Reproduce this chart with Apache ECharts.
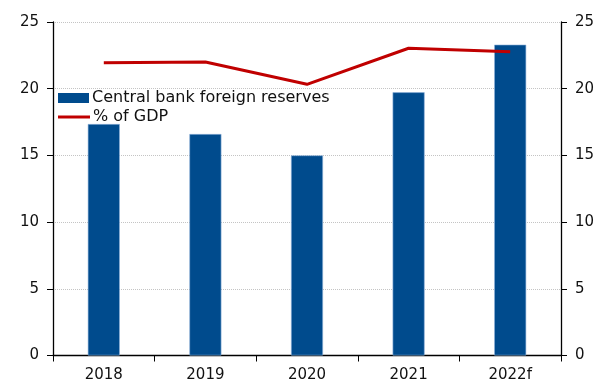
<!DOCTYPE html>
<html><head><meta charset="utf-8">
<script src="https://cdn.jsdelivr.net/npm/echarts@6/dist/echarts.min.js"></script>
<style>html,body{margin:0;padding:0;background:#fff}#c{width:600px;height:389px}</style>
</head><body><div id="c"></div>
<script>
const categories = ['2018', '2019', '2020', '2021', '2022f'];
const reserves = [17.35, 16.6, 15.0, 19.73, 23.3];
const pctGdp = [21.95, 22.0, 20.33, 23.03, 22.77];
const yTicks = [0, 5, 10, 15, 20, 25];
const seriesNames = ['Central bank foreign reserves', '% of GDP'];

const font = 'DejaVu Sans';
const legendText = { fontFamily: font, fontSize: 16, color: '#111', padding: [0, 0, 0, -2] };
const chart = echarts.init(document.getElementById('c'));
chart.setOption({
  animation: false,
  backgroundColor: '#fff',
  textStyle: { fontFamily: font },
  grid: { left: 53, right: 39, top: 22, bottom: 33.5 },
  legend: [
    {
      left: 53, top: 85, itemWidth: 31, itemHeight: 10,
      icon: 'rect', textStyle: legendText,
      itemStyle: { borderWidth: 0 },
      data: [seriesNames[0]]
    },
    {
      left: 53, top: 104, itemWidth: 32, itemHeight: 3,
      icon: 'rect', textStyle: legendText,
      itemStyle: { color: '#c00000', borderWidth: 0 },
      data: [seriesNames[1]]
    }
  ],
  xAxis: {
    type: 'category', data: categories,
    axisLine: { lineStyle: { color: '#000', width: 1.3 } },
    axisTick: { show: true, length: 6, lineStyle: { color: '#000' } },
    axisLabel: { color: '#111', fontSize: 15, margin: 12 }
  },
  yAxis: [
    {
      type: 'value', min: yTicks[0], max: yTicks[yTicks.length - 1], interval: 5,
      axisLine: { show: true, lineStyle: { color: '#000', width: 1.3 } },
      axisTick: { show: true, length: 6, lineStyle: { color: '#000' } },
      axisLabel: { color: '#111', fontSize: 15, margin: 14 },
      splitLine: { show: true, lineStyle: { color: '#c4c4c4', type: 'dotted', width: 1 } }
    },
    {
      type: 'value', min: yTicks[0], max: yTicks[yTicks.length - 1], interval: 5, position: 'right',
      axisLine: { show: true, lineStyle: { color: '#000', width: 1.3 } },
      axisTick: { show: true, length: 6, lineStyle: { color: '#000' } },
      axisLabel: { color: '#111', fontSize: 15, margin: 14 },
      splitLine: { show: false }
    }
  ],
  series: [
    {
      name: seriesNames[0], type: 'bar', data: reserves, yAxisIndex: 0,
      barWidth: 32,
      itemStyle: { color: '#004b8d', borderColor: '#8fb2da', borderWidth: 0.6 }
    },
    {
      name: seriesNames[1], type: 'line', data: pctGdp, yAxisIndex: 1,
      symbol: 'none',
      lineStyle: { color: '#c00000', width: 3 },
      itemStyle: { color: '#c00000' }
    }
  ]
});
</script></body></html>
